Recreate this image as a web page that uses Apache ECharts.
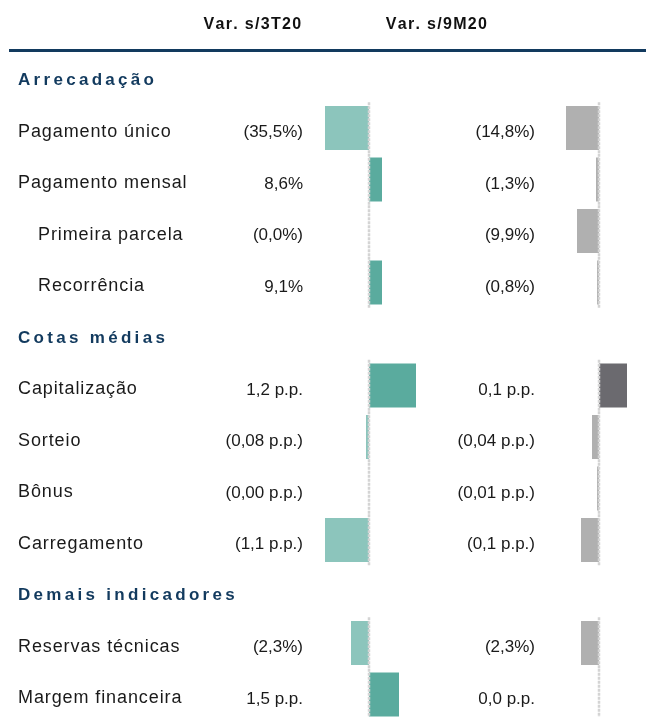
<!DOCTYPE html>
<html>
<head>
<meta charset="utf-8">
<script src="https://cdn.jsdelivr.net/npm/echarts@6/dist/echarts.min.js"></script>
<style>
  html, body { margin: 0; padding: 0; background: #fff; }
  #chart { width: 646px; height: 717px; }
</style>
</head>
<body>
<div id="chart"></div>
<script>
const categorias = [
  "Arrecadação", "Pagamento único", "Pagamento mensal", "Primeira parcela", "Recorrência",
  "Cotas médias", "Capitalização", "Sorteio", "Bônus", "Carregamento",
  "Demais indicadores", "Reservas técnicas", "Margem financeira"
]
const tipos = [
  "secao", "item", "item", "sub", "sub",
  "secao", "item", "item", "item", "item",
  "secao", "item", "item"
]
const cabecalhos = ["Var. s/3T20", "Var. s/9M20"]

const textos3T = ["", "(35,5%)", "8,6%", "(0,0%)", "9,1%", "", "1,2 p.p.", "(0,08 p.p.)", "(0,00 p.p.)", "(1,1 p.p.)", "", "(2,3%)", "1,5 p.p."]
const textos9M = ["", "(14,8%)", "(1,3%)", "(9,9%)", "(0,8%)", "", "0,1 p.p.", "(0,04 p.p.)", "(0,01 p.p.)", "(0,1 p.p.)", "", "(2,3%)", "0,0 p.p."]

// comprimento das barras (escala relativa de cada coluna)
const barras3T = [null, -44, 13, 0, 13, null, 47, -3, 0, -44, null, -18, 30]
const barras9M = [null, -33, -3, -22, -2, null, 28, -7, -2, -18, null, -18, 0]

const FONTE = "'Liberation Sans', Arial, sans-serif"
const AZUL = "#123a5e"
const TOPO = 50.75
const FAIXA = 51.5

const chart = echarts.init(document.getElementById("chart"))

function espacar(texto, estilo) {
  return Array.from(texto).map((c) => "{" + estilo + "|" + c + "}").join("")
}

function rotulo(valor, indice) {
  const tipo = tipos[indice]
  if (tipo === "secao") return espacar(valor, "s")
  if (tipo === "sub") return "{ind| }" + espacar(valor, "n")
  return espacar(valor, "n")
}

function linhaZero(params, api) {
  const p = api.coord([0, api.value(1)])
  const h = api.size([0, 1])[1]
  return {
    type: "line",
    shape: { x1: p[0], y1: p[1] - h / 2, x2: p[0], y2: p[1] + h / 2 },
    style: { stroke: "#d4d4d4", lineWidth: 2.5, lineDash: [3, 1] }
  }
}

const linhasDados = tipos.map((t, i) => (t === "secao" ? null : [0, i])).filter((d) => d)

function eixoValores(grid, textos, margem) {
  return {
    type: "category",
    gridIndex: grid,
    data: categorias,
    inverse: true,
    position: "left",
    axisLine: { show: false },
    axisTick: { show: false },
    splitLine: { show: false },
    axisLabel: {
      interval: 0,
      margin: margem,
      padding: [9, 0, 0, 0],
      formatter: (v, i) => (textos[i] ? "{v|" + textos[i] + "}" : ""),
      rich: {
        v: { fontFamily: FONTE, fontSize: 17, color: "#1a1a1a" }
      }
    }
  }
}

function corBarra(clara, escura) {
  return (p) => (p.value < 0 ? clara : escura)
}

const estiloCabecalho = { fontFamily: FONTE, fontSize: 16, fontWeight: "bold", fill: "#111", padding: [0, 1.3, 0, 0] }

chart.setOption({
  animation: false,
  backgroundColor: "#fff",
  grid: [
    { left: 319, width: 100, top: TOPO, height: FAIXA * categorias.length, containLabel: false, outerBoundsMode: "none" },
    { left: 549, width: 80, top: TOPO, height: FAIXA * categorias.length, containLabel: false, outerBoundsMode: "none" }
  ],
  xAxis: [
    { type: "value", gridIndex: 0, min: -50, max: 50, show: false },
    { type: "value", gridIndex: 1, min: -50, max: 30, show: false }
  ],
  yAxis: [
    eixoValores(0, textos3T, 16),
    eixoValores(1, textos9M, 14),
    {
      type: "category",
      gridIndex: 0,
      data: categorias,
      inverse: true,
      position: "left",
      axisLine: { show: false },
      axisTick: { show: false },
      splitLine: { show: false },
      axisLabel: {
        interval: 0,
        margin: 301,
        align: "left",
        padding: [8, 0, 0, 0],
        formatter: rotulo,
        rich: {
          n: { fontFamily: FONTE, fontSize: 18, color: "#1a1a1a", padding: [0, 0.9, 0, 0] },
          s: { fontFamily: FONTE, fontSize: 17, fontWeight: "bold", color: AZUL, padding: [0, 3.3, 0, 0] },
          ind: { width: 20, fontSize: 18 }
        }
      }
    }
  ],
  graphic: [
    {
      type: "line",
      shape: { x1: 9, y1: 50.5, x2: 646, y2: 50.5 },
      style: { stroke: AZUL, lineWidth: 3 }
    },
    {
      type: "text",
      x: 253,
      y: 25,
      style: { text: espacar(cabecalhos[0], "h"), align: "center", verticalAlign: "middle", rich: { h: estiloCabecalho } }
    },
    {
      type: "text",
      x: 437,
      y: 25,
      style: { text: espacar(cabecalhos[1], "h"), align: "center", verticalAlign: "middle", rich: { h: estiloCabecalho } }
    }
  ],
  series: [
    {
      type: "bar",
      xAxisIndex: 0,
      yAxisIndex: 0,
      data: barras3T,
      barWidth: 44,
      itemStyle: { color: corBarra("#8cc5bc", "#5aab9e") }
    },
    {
      type: "bar",
      xAxisIndex: 1,
      yAxisIndex: 1,
      data: barras9M,
      barWidth: 44,
      itemStyle: { color: corBarra("#b0b0b0", "#6b6a6f") }
    },
    {
      type: "custom",
      xAxisIndex: 0,
      yAxisIndex: 0,
      data: linhasDados,
      encode: { x: 0, y: 1 },
      renderItem: linhaZero,
      z: 5
    },
    {
      type: "custom",
      xAxisIndex: 1,
      yAxisIndex: 1,
      data: linhasDados,
      encode: { x: 0, y: 1 },
      renderItem: linhaZero,
      z: 5
    }
  ]
})
</script>
</body>
</html>
